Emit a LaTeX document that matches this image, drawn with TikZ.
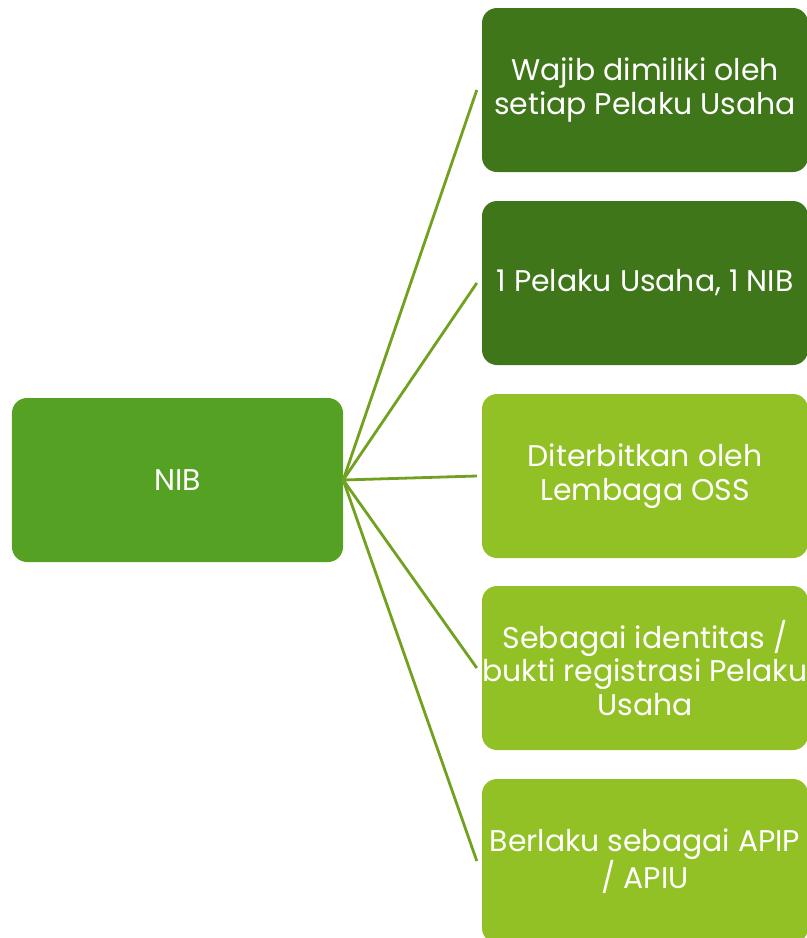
\documentclass[tikz,border=0pt]{standalone}
\usepackage{fontspec}
\setmainfont{Poppins}
\begin{document}
\begin{tikzpicture}[x=1bp,y=-1bp,
  box/.style={rounded corners=15bp, text=white, align=center, inner sep=0pt,
    font=\fontsize{30}{33.5}\selectfont},
  hub/.style={box, fill=hubgreen},
  darkbox/.style={box, fill=darkgreen},
  lightbox/.style={box, fill=lightgreen},
  link/.style={draw=linkgreen, line width=2.8bp}
]
\definecolor{hubgreen}{HTML}{55A124}
\definecolor{darkgreen}{HTML}{3F761A}
\definecolor{lightgreen}{HTML}{92C125}
\definecolor{linkgreen}{HTML}{72A11F}
\useasboundingbox (0,0) rectangle (807,938);
\clip (0,0) rectangle (807,938);

% central item
\node[hub, minimum width=331bp, minimum height=164bp] (nib) at (177.5,480) {NIB};

% items on the right
\node[darkbox, minimum width=326bp, minimum height=164bp] (b1) at (645,90) {Wajib dimiliki oleh\\setiap Pelaku Usaha};
\node[darkbox, minimum width=326bp, minimum height=164bp] (b2) at (645,283) {1 Pelaku Usaha, 1 NIB};
\node[lightbox, minimum width=326bp, minimum height=164bp] (b3) at (645,476) {Diterbitkan oleh\\Lembaga OSS};
\node[lightbox, minimum width=326bp, minimum height=164bp] (b4) at (645,668) {Sebagai identitas /\\bukti registrasi Pelaku\\Usaha};
\node[lightbox, minimum width=326bp, minimum height=164bp] (b5) at (645,861) {Berlaku sebagai APIP\\/ APIU};

% connectors from the hub
\coordinate (hubpt) at (nib.east);
\coordinate (e1) at ([xshift=-5bp]b1.west);
\coordinate (e2) at ([xshift=-5bp]b2.west);
\coordinate (e3) at ([xshift=-5bp]b3.west);
\coordinate (e4) at ([xshift=-5bp]b4.west);
\coordinate (e5) at ([xshift=-5bp]b5.west);
\foreach \e in {e1,e2,e3,e4,e5} \draw[link] (hubpt) -- (\e);
\end{tikzpicture}
\end{document}
